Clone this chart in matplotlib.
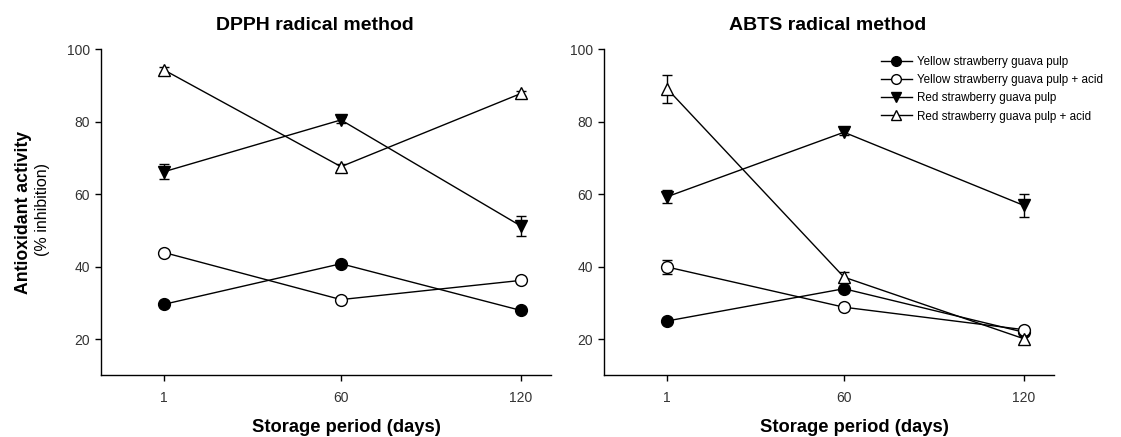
import matplotlib
matplotlib.use("Agg")
import matplotlib.pyplot as plt
from matplotlib.lines import Line2D

plt.rcParams['font.family'] = ['Liberation Sans', 'DejaVu Sans']

days = [1, 60, 120]
series_labels = ["Yellow strawberry guava pulp",
                 "Yellow strawberry guava pulp + acid",
                 "Red strawberry guava pulp",
                 "Red strawberry guava pulp + acid"]

# DPPH radical method
dpph_yellow = [29.6, 40.8, 27.9]
dpph_yellow_acid = [43.9, 30.9, 36.2]
dpph_red = [66.2, 80.5, 51.2]
dpph_red_acid = [94.3, 67.6, 87.8]
dpph_yellow_err = [0.8, 0.8, 0.8]
dpph_yellow_acid_err = [0.8, 0.6, 0.8]
dpph_red_err = [2.1, 0.8, 2.7]
dpph_red_acid_err = [0.8, 0.8, 0.8]

# ABTS radical method
abts_yellow = [25.0, 33.9, 21.9]
abts_yellow_acid = [39.9, 28.8, 22.6]
abts_red = [59.3, 77.1, 56.9]
abts_red_acid = [89.1, 37.1, 20.1]
abts_yellow_err = [0.6, 0.8, 0.6]
abts_yellow_acid_err = [2.0, 0.8, 0.8]
abts_red_err = [1.8, 0.8, 3.2]
abts_red_acid_err = [3.8, 1.5, 1.0]

y_ticks = [20, 40, 60, 80, 100]

styles = [dict(marker='o', mfc='black'),
          dict(marker='o', mfc='white'),
          dict(marker='v', mfc='black'),
          dict(marker='^', mfc='white')]

fig = plt.figure(figsize=(11.21, 4.37), dpi=100)
ax1 = fig.add_axes([0.0901, 0.1412, 0.4014, 0.746])
ax2 = fig.add_axes([0.5390, 0.1412, 0.4010, 0.746])

def draw(ax, vals, errs, title, title_x):
    for v, e, st, lab in zip(vals, errs, styles, series_labels):
        ax.errorbar(days, v, yerr=e, color='black', lw=1.0, elinewidth=1.0,
                    capsize=3.5, capthick=1.0, marker=st['marker'],
                    mfc=st['mfc'], mec='black', mew=1.0, ms=8.5, label=lab,
                    zorder=3)
    ax.set_xlim(-20, 130)
    ax.set_ylim(10, 100)
    ax.set_xticks(days)
    ax.set_xticklabels([str(d) for d in days])
    ax.set_yticks(y_ticks)
    ax.spines['top'].set_visible(False)
    ax.spines['right'].set_visible(False)
    for s in ['left', 'bottom']:
        ax.spines[s].set_linewidth(1.0)
    ax.tick_params(direction='out', length=4, width=1.0, labelsize=10,
                   labelcolor='#333333', pad=4)
    ax.tick_params(axis='x', pad=7)
    fig.text(title_x, 1 - 25 / 437, title, ha='center', va='center',
             fontsize=14, fontweight='bold')

draw(ax1, [dpph_yellow, dpph_yellow_acid, dpph_red, dpph_red_acid],
     [dpph_yellow_err, dpph_yellow_acid_err, dpph_red_err, dpph_red_acid_err],
     "DPPH radical method", 315 / 1121)
draw(ax2, [abts_yellow, abts_yellow_acid, abts_red, abts_red_acid],
     [abts_yellow_err, abts_yellow_acid_err, abts_red_err, abts_red_acid_err],
     "ABTS radical method", 828 / 1121)

# axis labels
fig.text(24 / 1121, 1 - 212 / 437, "Antioxidant activity", rotation=90,
         ha='center', va='center', fontsize=12.7, fontweight='bold')
fig.text(43 / 1121, 1 - 209 / 437, "(% inhibition)", rotation=90,
         ha='center', va='center', fontsize=11.5)
fig.text(346 / 1121, 1 - 428 / 437, "Storage period (days)", ha='center',
         va='center', fontsize=13.2, fontweight='bold')
fig.text(854 / 1121, 1 - 428 / 437, "Storage period (days)", ha='center',
         va='center', fontsize=13.2, fontweight='bold')

handles = [Line2D([], [], color='black', lw=1.0, marker=st['marker'],
                  mfc=st['mfc'], mec='black', mew=1.0, ms=7)
           for st in styles]
leg = ax2.legend(handles=handles, labels=series_labels, loc='upper left',
                 bbox_to_anchor=(881 / 1121, 1 - 56 / 437),
                 bbox_transform=fig.transFigure, frameon=False, fontsize=8.4,
                 handlelength=2.65, handletextpad=0.43, labelspacing=0.53,
                 borderpad=0, borderaxespad=0)

fig.savefig("out.png", dpi=100)
